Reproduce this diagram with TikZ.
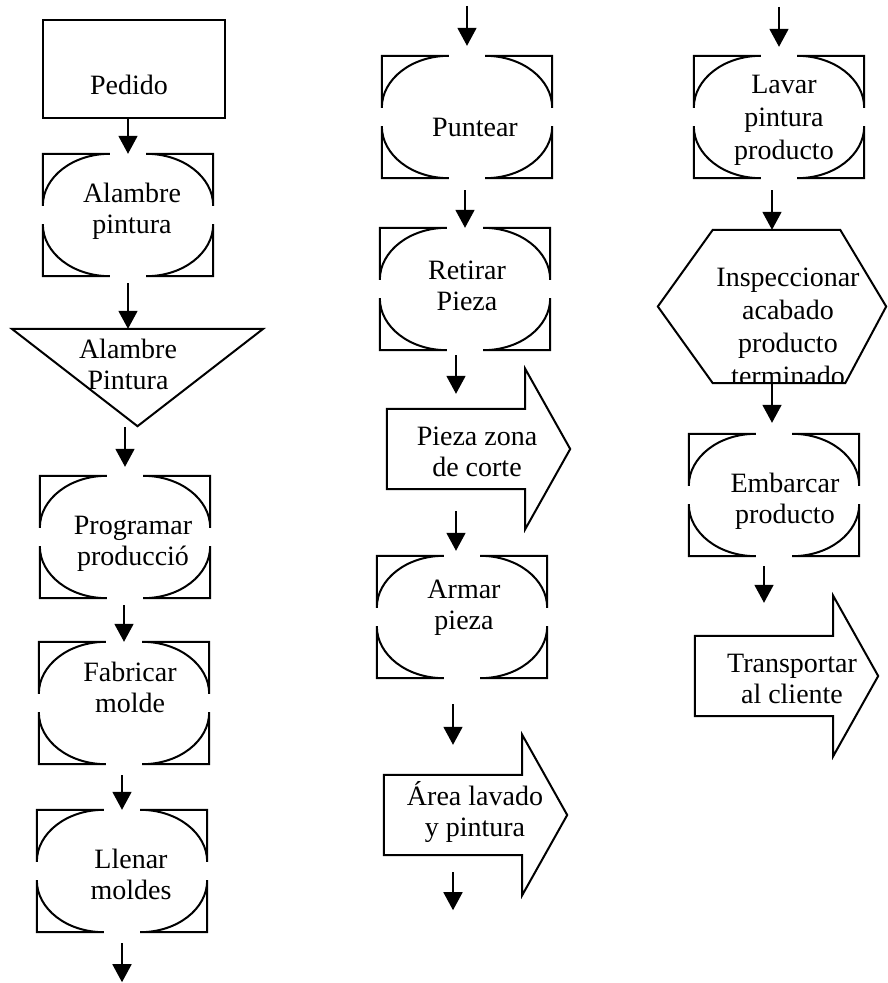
\documentclass[tikz,border=0pt]{standalone}
\usepackage{fontspec}
\setmainfont{Liberation Serif}
\usetikzlibrary{arrows.meta}

\newcommand{\opframe}[1]{%
	\draw[outline] ([yshift=-52pt]#1.north west) -- (#1.north west) -- ([xshift=67pt]#1.north west) arc[start angle=90, end angle=180, x radius=67pt, y radius=52pt];
	\draw[outline] ([yshift=-52pt]#1.north east) -- (#1.north east) -- ([xshift=-67pt]#1.north east) arc[start angle=90, end angle=0, x radius=67pt, y radius=52pt];
	\draw[outline] ([yshift=52pt]#1.south west) -- (#1.south west) -- ([xshift=67pt]#1.south west) arc[start angle=-90, end angle=-180, x radius=67pt, y radius=52pt];
	\draw[outline] ([yshift=52pt]#1.south east) -- (#1.south east) -- ([xshift=-67pt]#1.south east) arc[start angle=-90, end angle=0, x radius=67pt, y radius=52pt];
}
\newcommand{\arrowframe}[1]{%
	\draw[outline] (#1.south west) -- (#1.north west) -- (#1.north east) -- ([yshift=40pt]#1.north east) -- ([xshift=45pt]#1.east) -- ([yshift=-40pt]#1.south east) -- (#1.south east) -- cycle;
}

\begin{document}
\begin{tikzpicture}[x=1pt, y=1pt,
	outline/.style={black, line width=2pt, line join=miter},
	flow/.style={-{Triangle[length=18pt, width=19pt]}, black, line width=1.8pt},
	opbox/.style={minimum width=170pt, minimum height=122pt, inner sep=0pt},
	bodybox/.style={minimum width=138pt, minimum height=80pt, inner sep=0pt},
	txt/.style={font=\fontsize{28}{31}\selectfont, align=center, inner sep=0pt}]
	\useasboundingbox (0,0) rectangle (888,-983);
	
	\node[draw, outline, minimum width=182pt, minimum height=98pt, inner sep=0pt] (ped) at (134,-69) {};
	\node[txt] (pedt) at (129,-85) {Pedido};
	
	\node[opbox] (alp) at (128,-215) {};
	\opframe{alp}
	\node[txt] (alpt) at (132,-211) {Alambre\\pintura};
	
	\node[minimum width=251pt, minimum height=97pt, inner sep=0pt] (tri) at (137.5,-377.5) {};
	\draw[outline] (tri.north west) -- (tri.north east) -- (tri.south) -- cycle;
	\node[txt] (trit) at (128,-364) {Alambre\\Pintura};
	
	\node[opbox] (prg) at (125,-537) {};
	\opframe{prg}
	\node[txt] (prgt) at (133,-544) {Programar\\producció};
	
	\node[opbox] (fab) at (124,-703) {};
	\opframe{fab}
	\node[txt] (fabt) at (130,-687) {Fabricar\\molde};
	
	\node[opbox] (lle) at (122,-871) {};
	\opframe{lle}
	\node[txt] (llet) at (131,-874) {Llenar\\moldes};
	\coordinate (llend) at ([yshift=-50pt]lle.south);
	
	\draw[flow] (ped.south -| alp.north) -- (alp.north);
	\draw[flow, shorten <=7pt] (alp.south) -- (alp.south |- tri.north);
	\draw[flow, shorten <=1pt, shorten >=9pt] (tri.south -| prg.north) -- (prg.north);
	\draw[flow, shorten <=7pt] (prg.south -| fab.north) -- (fab.north);
	\draw[flow, shorten <=11pt] (fab.south -| lle.north) -- (lle.north);
	\draw[flow, shorten <=11pt] (lle.south) -- (llend);
	
	\node[opbox] (pun) at (467,-117) {};
	\opframe{pun}
	\node[txt] (punt) at (475,-127) {Puntear};
	\coordinate (punin) at ([yshift=50pt]pun.north);
	
	\node[opbox] (ret) at (465,-289) {};
	\opframe{ret}
	\node[txt] (rett) at (467,-286) {Retirar\\Pieza};
	
	\node[bodybox] (pzc) at (456,-449) {};
	\arrowframe{pzc}
	\node[txt] (pzct) at (477,-452) {Pieza zona\\de corte};
	
	\node[opbox] (arm) at (462,-617) {};
	\opframe{arm}
	\node[txt] (armt) at (464,-608) {Armar\\pieza};
	
	\node[bodybox] (are) at (453,-815) {};
	\arrowframe{are}
	\node[txt] (aret) at (475,-812) {Área lavado\\y pintura};
	\coordinate (arend) at ([yshift=-55pt]are.south);
	
	\draw[flow, shorten >=10pt] (punin) -- (pun.north);
	\draw[flow, shorten <=12pt] (pun.south -| ret.north) -- (ret.north);
	\draw[flow, shorten <=5pt, shorten >=15pt] (ret.south -| pzc.north) -- (pzc.north);
	\draw[flow, shorten <=22pt, shorten >=5pt] (pzc.south) -- (pzc.south |- arm.north);
	\draw[flow, shorten <=26pt, shorten >=30pt] (arm.south -| are.north) -- (are.north);
	\draw[flow, shorten <=17pt] (are.south) -- (arend);
	
	\node[opbox] (lav) at (779,-117) {};
	\opframe{lav}
	\node[txt, font=\fontsize{28}{33}\selectfont] (lavt) at (784,-120) {Lavar\\pintura\\producto};
	\coordinate (lavin) at ([yshift=49pt]lav.north);
	
	\node[minimum width=228pt, minimum height=153pt, inner sep=0pt] (ins) at (772,-306.5) {};
	\draw[outline] ([xshift=55pt]ins.north west) -- ([xshift=-46pt]ins.north east) -- (ins.east) -- ([xshift=-41pt]ins.south east) -- ([xshift=55pt]ins.south west) -- (ins.west) -- cycle;
	\begin{scope}
		\clip ([xshift=55pt]ins.north west) -- ([xshift=-46pt]ins.north east) -- (ins.east) -- ([xshift=-41pt]ins.south east) -- ([xshift=55pt]ins.south west) -- (ins.west) -- cycle;
		\node[txt, font=\fontsize{28}{33}\selectfont] (inst) at (788,-327) {Inspeccionar\\acabado\\producto\\terminado};
	\end{scope}
	
	\node[opbox] (emb) at (774,-495) {};
	\opframe{emb}
	\node[txt] (embt) at (785,-501) {Embarcar\\producto};
	
	\node[bodybox] (tra) at (764,-676) {};
	\arrowframe{tra}
	\node[txt] (trat) at (792,-679) {Transportar\\al cliente};
	
	\draw[flow, shorten >=9pt] (lavin) -- (lav.north);
	\draw[flow, shorten <=12pt] (lav.south -| ins.north) -- (ins.north);
	\draw[flow, shorten >=11pt] (ins.south) -- (ins.south |- emb.north);
	\draw[flow, shorten <=10pt, shorten >=33pt] (emb.south -| tra.north) -- (tra.north);
	
\end{tikzpicture}
\end{document}
